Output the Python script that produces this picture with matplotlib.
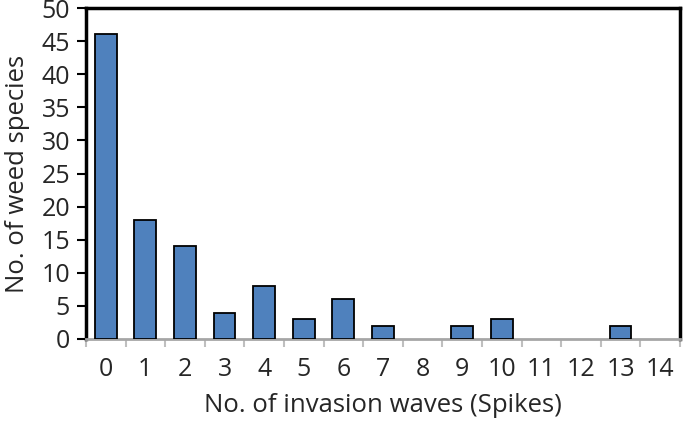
import matplotlib
matplotlib.use('Agg')
import matplotlib.pyplot as plt

# data
waves = [0, 1, 2, 3, 4, 5, 6, 7, 8, 9, 10, 11, 12, 13, 14]
species = [46, 18, 14, 4, 8, 3, 6, 2, 0, 2, 3, 0, 0, 2, 0]

plt.rcParams['font.family'] = ['Open Sans', 'DejaVu Sans']

fig = plt.figure(figsize=(6.85, 4.22), dpi=100)
ax = fig.add_axes([0.1255, 0.1967, 0.8672, 0.7843])

# zero-height bars get no outline, like the original
edges = ['black' if v > 0 else 'none' for v in species]
ax.bar(waves, species, width=0.55, color='#4F81BD', edgecolor=edges, linewidth=1.3, zorder=3)

ax.set_xlim(-0.5, 14.5)
ax.set_ylim(0, 50)
ax.set_yticks(range(0, 51, 5))
ax.set_xticks(waves)
ax.set_xticks([w - 0.5 for w in waves] + [14.5], minor=True)

ax.tick_params(axis='y', direction='out', length=6.5, width=1.5, color='black', labelsize=18, pad=5)
ax.tick_params(axis='x', which='major', length=0, labelsize=18, pad=13)
ax.tick_params(axis='x', which='minor', direction='out', length=6, width=1.5, color='#bfbfbf')

for s in ['top', 'left', 'right']:
    ax.spines[s].set_linewidth(2.5)
    ax.spines[s].set_color('black')
ax.spines['bottom'].set_linewidth(2)
ax.spines['bottom'].set_color('#a6a6a6')

ax.set_xlabel('No. of invasion waves (Spikes)', fontsize=18.5, labelpad=8, color='#262626')
ax.set_ylabel('No. of weed species', fontsize=18.5, labelpad=8, color='#262626')
ax.tick_params(labelcolor='#262626')

fig.savefig('out.png', dpi=100)
